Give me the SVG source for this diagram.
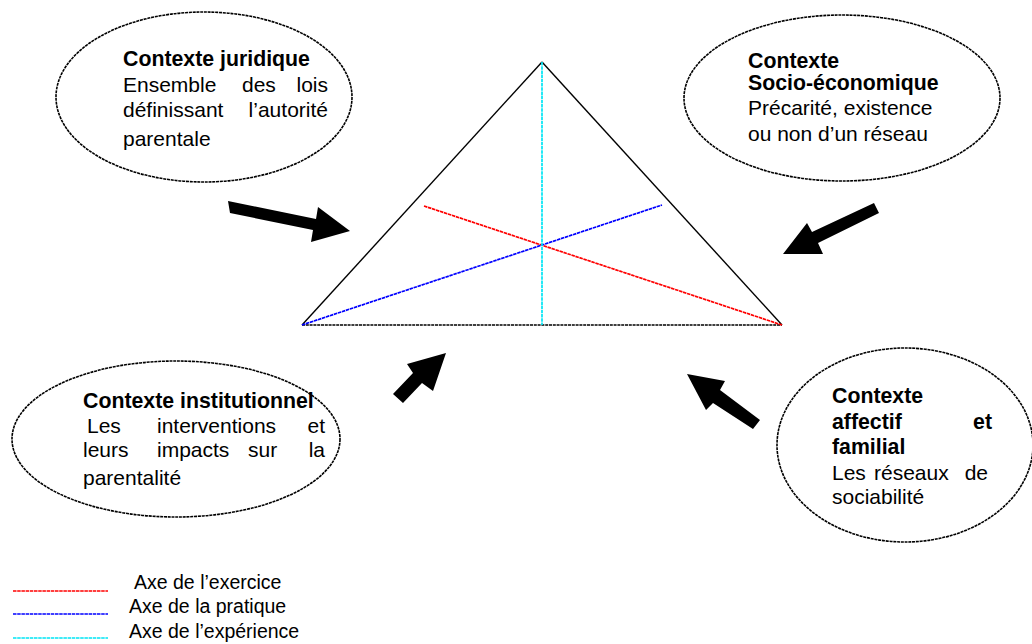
<svg xmlns="http://www.w3.org/2000/svg" width="1032" height="644" viewBox="0 0 1032 644">
  <style>
    text { font-family: "Liberation Sans", Arial, sans-serif; font-size: 21px; fill: #000; }
    .b { font-weight: bold; font-size: 21.3px; }
    .e { text-anchor: end; }
    .ctx { fill: #fff; stroke: #000; stroke-width: 1.6; stroke-dasharray: 3 0.8; }
    .side { stroke: #000; stroke-width: 1.4; fill: none; }
    .base { stroke: #000; stroke-width: 1.5; stroke-dasharray: 3 0.8; }
    .axis { stroke-width: 1.7; stroke-dasharray: 3.5 0.7; fill: none; }
    .arrow { fill: #000; }
    .leg { font-size: 19.5px; }
  </style>
  <rect width="1032" height="644" fill="#fff"/>

  <!-- central triangle with its three axes -->
  <g id="triangle">
    <line class="side" x1="302" y1="325" x2="542" y2="62"/>
    <line class="side" x1="542" y1="62" x2="782" y2="325"/>
    <line class="base" x1="302" y1="325" x2="782" y2="325"/>
    <line class="axis" stroke="#ff0000" x1="424" y1="206" x2="782" y2="325"/>
    <line class="axis" stroke="#0000ff" x1="302" y1="325" x2="662" y2="205"/>
    <line class="axis" stroke="#00e5f5" x1="542" y1="62" x2="542" y2="325"/>
  </g>

  <g id="ctx-juridique">
    <ellipse class="ctx" cx="204" cy="97" rx="148" ry="85"/>
    <text class="b" x="123" y="66">Contexte juridique</text>
    <text x="123" y="92">Ensemble</text>
    <text x="242" y="92">des</text>
    <text class="e" x="328" y="92">lois</text>
    <text x="123" y="117">définissant</text>
    <text class="e" x="328" y="117">l’autorité</text>
    <text x="123" y="146">parentale</text>
  </g>

  <g id="ctx-socio">
    <ellipse class="ctx" cx="842" cy="98" rx="158" ry="83"/>
    <text class="b" x="748" y="68">Contexte</text>
    <text class="b" x="748" y="90">Socio-économique</text>
    <text x="748" y="115">Précarité, existence</text>
    <text x="748" y="141">ou non d’un réseau</text>
  </g>

  <g id="ctx-institutionnel">
    <ellipse class="ctx" cx="176" cy="439" rx="164" ry="78"/>
    <text class="b" x="83" y="408">Contexte institutionnel</text>
    <text x="87" y="433">Les</text>
    <text x="157" y="433">interventions</text>
    <text class="e" x="325" y="433">et</text>
    <text x="83" y="457">leurs</text>
    <text x="157" y="457">impacts</text>
    <text x="248" y="457">sur</text>
    <text class="e" x="325" y="457">la</text>
    <text x="83" y="485">parentalité</text>
  </g>

  <g id="ctx-affectif">
    <ellipse class="ctx" cx="905" cy="445" rx="128" ry="97"/>
    <text class="b" x="832" y="403">Contexte</text>
    <text class="b" x="832" y="429">affectif</text>
    <text class="b e" x="992" y="429">et</text>
    <text class="b" x="832" y="454">familial</text>
    <text x="832" y="480">Les</text>
    <text x="874" y="480">réseaux</text>
    <text class="e" x="988" y="480">de</text>
    <text x="832" y="504">sociabilité</text>
  </g>

  <!-- block arrows pointing at the triangle -->
  <g id="connectors">
    <polygon class="arrow" points="228,201 316,219 318,207 350,231 311,242 313,230 230,213"/>
    <polygon class="arrow" points="874,203 812,232 807,223 783,254 823,254 818,243 879,213"/>
    <polygon class="arrow" points="446,353 407,364 413,373 393,394 403,403 422,383 433,391"/>
    <polygon class="arrow" points="687,374 725,381 720,390 760,420 753,429 713,403 706,410"/>
  </g>

  <g id="legend">
    <line class="axis" stroke="#ff0000" x1="13" y1="591" x2="108" y2="591"/>
    <line class="axis" stroke="#0000ff" x1="13" y1="614" x2="108" y2="614"/>
    <line class="axis" stroke="#00e5f5" x1="13" y1="638" x2="108" y2="638"/>
    <text class="leg" x="134" y="589">Axe de l’exercice</text>
    <text class="leg" x="129" y="613">Axe de la pratique</text>
    <text class="leg" x="129" y="638">Axe de l’expérience</text>
  </g>
</svg>
